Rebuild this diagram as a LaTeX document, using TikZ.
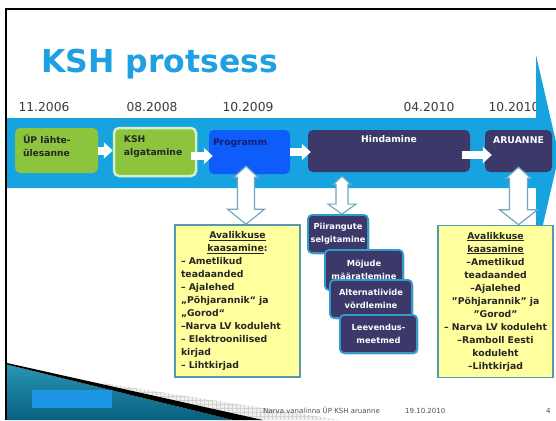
\documentclass[tikz,border=0pt]{standalone}
\usepackage{fontspec}
\setmainfont{DejaVu Sans}
\usetikzlibrary{arrows.meta,calc,shadows}
\definecolor{bandc}{RGB}{22,163,224}
\definecolor{greenc}{RGB}{141,196,62}
\definecolor{kshedge}{RGB}{214,238,196}
\definecolor{progc}{RGB}{14,92,250}
\definecolor{navyc}{RGB}{60,56,106}
\definecolor{yellc}{RGB}{255,255,158}
\definecolor{yedge}{RGB}{84,154,174}
\definecolor{stackedge}{RGB}{48,156,204}
\definecolor{titlec}{RGB}{30,160,226}
\definecolor{datec}{RGB}{60,60,60}
\definecolor{arrowedge}{RGB}{112,168,192}
\definecolor{tealc}{RGB}{40,150,180}
\definecolor{tealdark}{RGB}{8,96,126}
\definecolor{logoc}{RGB}{28,150,228}
\definecolor{footc}{RGB}{80,80,80}
\definecolor{progtext}{RGB}{20,30,110}
\newcommand\twoway[7]{%
  \draw[twoarrow] let \p1=#1, \p2=#2 in
    (\x1,\y1) -- (\x1+#4,\y1-#5) -- (\x1+#3,\y1-#5) -- (\x1+#3,\y2+#7)
    -- (\x1+#6,\y2+#7) -- (\x1,\y2) -- (\x1-#6,\y2+#7) -- (\x1-#3,\y2+#7)
    -- (\x1-#3,\y1-#5) -- (\x1-#4,\y1-#5) -- cycle;}
\tikzset{
  stage/.style={rounded corners=5pt, inner sep=0pt},
  btext/.style={inner sep=0pt, align=left, font=\bfseries\fontsize{9.2}{13}\selectfont, text=black!85},
  datelbl/.style={anchor=base, inner sep=0pt, font=\fontsize{12.3}{14}\selectfont, text=datec},
  flow/.style={line width=8pt, draw=white, -{Triangle[width=16pt,length=9pt]}},
  yellowbox/.style={draw=yedge, line width=1.6pt, fill=yellc, minimum height=152pt, inner ysep=0pt,
    font=\bfseries\fontsize{9.3}{13}\selectfont, text=black!85},
  stackbox/.style={draw=stackedge, line width=1.8pt, fill=navyc, rounded corners=4pt, text=white,
    align=center, font=\bfseries\fontsize{8.3}{13}\selectfont, inner sep=0pt,
    drop shadow={shadow xshift=1.5pt, shadow yshift=-1.5pt, opacity=0.45}},
  twoarrow/.style={draw=arrowedge, line width=1.2pt, fill=white, line join=miter},
  foot/.style={anchor=base west, inner sep=0pt, font=\fontsize{7}{8}\selectfont, text=footc},
}
\begin{document}
\begin{tikzpicture}[x=1pt,y=-1pt]
\useasboundingbox (0,0) rectangle (556,420);
\fill[white] (0,0) rectangle (556,420);

% title and dates
\node[anchor=base west, inner sep=0pt, font=\bfseries\fontsize{31.5}{32}\selectfont, text=titlec] (title) at (41,72) {KSH protsess};
\node[datelbl] (d1) at (44,111) {11.2006};
\node[datelbl] (d2) at (152,111) {08.2008};
\node[datelbl] (d3) at (248,111) {10.2009};
\node[datelbl] (d4) at (429,111) {04.2010};
\node[datelbl] (d5) at (514,111) {10.2010};

% big band arrow
\fill[bandc] (7,118) -- (536,118) -- (536,55) -- (559,155) -- (536,255) -- (536,188) -- (7,188) -- cycle;

% stages
\node[stage, fill=greenc, minimum width=83pt, minimum height=45pt] (up) at (56.5,150.5) {};
\node[stage, fill=greenc, draw=kshedge, line width=2.5pt, minimum width=82pt, minimum height=48pt] (ksh) at (155,152) {};
\node[stage, fill=progc, minimum width=81pt, minimum height=44pt] (prog) at (249.5,152) {};
\node[stage, fill=navyc, minimum width=162pt, minimum height=42pt] (hind) at (389,151) {};
\node[stage, fill=navyc, minimum width=67pt, minimum height=42pt] (aru) at (518.5,151) {};

\node[btext, anchor=north west] (upt) at ([shift={(8pt,-7pt)}]up.north west) {ÜP lähte-\\ülesanne};
\node[btext, anchor=north west] (ksht) at ([shift={(11pt,-8.6pt)}]ksh.north west) {KSH\\algatamine};
\node[btext, anchor=north west, text=progtext] (progt) at ([shift={(4pt,-8.5pt)}]prog.north west) {Programm};
\node[btext, anchor=north, text=white] (hindt) at ([yshift=-6pt]hind.north) {Hindamine};
\node[btext, anchor=north, text=white, font=\bfseries\fontsize{9.3}{11}\selectfont] (arut) at ([yshift=-7pt]aru.north) {ARUANNE};

\draw[flow] (up.east) -- (up.east -| ksh.west);
\draw[flow] ([xshift=-6pt,yshift=-4pt]ksh.east) -- ([xshift=4pt,yshift=-4pt]ksh.east -| prog.west);
\draw[flow] (prog.east) -- ([xshift=3pt]prog.east -| hind.west);
\draw[flow] ([xshift=-8pt,yshift=-4pt]hind.east) -- ([xshift=7pt,yshift=-4pt]aru.west);

% yellow boxes
\node[yellowbox, text width=113pt, inner xsep=6pt, align=left] (yb1) at (237.5,301)
  {\makebox[113pt]{\underline{Avalikkuse}}\\
   \makebox[113pt]{\underline{kaasamine}:}\\
   – Ametlikud\\ teadaanded\\ – Ajalehed\\ „Põhjarannik“ ja\\ „Gorod“\\
   –Narva LV koduleht\\ – Elektroonilised\\ kirjad\\ – Lihtkirjad};
\node[yellowbox, text width=113pt, inner xsep=1pt, align=center] (yb2) at (495.5,301.5)
  {\underline{Avalikkuse}\\ \underline{kaasamine}\\ –Ametlikud\\ teadaanded\\ –Ajalehed\\
   "Põhjarannik" ja\\ "Gorod"\\ – Narva LV koduleht\\ –Ramboll Eesti\\ koduleht\\ –Lihtkirjad};

% stacked assessment steps
\node[stackbox, minimum width=60pt, minimum height=38pt] (s1) at (338,234) {Piirangute\\selgitamine};
\node[stackbox, minimum width=78pt, minimum height=40pt] (s2) at (364,270) {Mõjude\\määratlemine};
\node[stackbox, minimum width=82pt, minimum height=38pt] (s3) at (371,299) {Alternatiivide\\võrdlemine};
\node[stackbox, minimum width=77pt, minimum height=38pt] (s4) at (378.5,334) {Leevendus-\\meetmed};

% two-way arrows
\twoway{([xshift=-3.5pt,yshift=8pt]prog.south)}{(yb1.north)}{8.5pt}{12pt}{11pt}{18.5pt}{15pt}
\twoway{([xshift=-47pt,yshift=-4pt]hind.south)}{(s1.north)}{6pt}{8.5pt}{8pt}{14pt}{10pt}
\twoway{([yshift=5pt]aru.south)}{(yb2.north)}{9pt}{12.5pt}{11pt}{19pt}{15pt}

% bottom swoosh
\begin{scope}
  \clip (95,382) -- (340,420) -- (263,420) -- cycle;
  \fill[gray!12] (90,375) rectangle (345,420);
  \draw[gray!35, line width=.3pt, step=4pt] (90,375) grid (345,420);
\end{scope}
\shade[top color=tealc, bottom color=tealdark] (7,364.5) -- (233,420) -- (7,420) -- cycle;
\fill[black] (7,363) -- (263,420) -- (233,420) -- (7,364.5) -- cycle;
\fill[logoc] (32,390) rectangle (112,408);

% footer
\node[foot] (f1) at (263,413) {Narva vanalinna ÜP KSH aruanne};
\node[foot] (f2) at (405,413) {19.10.2010};
\node[foot] (f3) at (546,413) {4};

% slide border
\draw[line width=2.3pt] (5,9.2) -- (556,9.2);
\draw[line width=2.3pt] (6.2,8) -- (6.2,420);
\end{tikzpicture}
\end{document}
